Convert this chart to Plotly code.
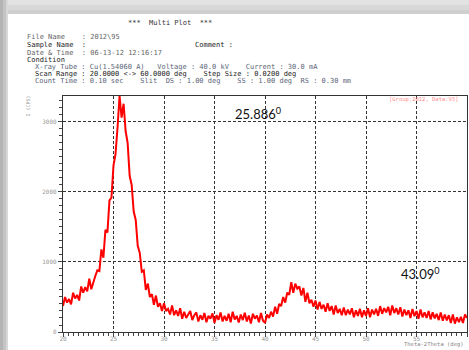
import numpy as np
import plotly.graph_objects as go

# ---- data ----
scan_start = 20.0
scan_end = 60.0
sample_step = 0.2
two_theta = np.round(np.arange(scan_start, scan_end + sample_step / 2, sample_step), 2)

intensity = [
    370, 500, 420, 470, 395, 560, 480, 530, 450, 650,            # 20.0-21.8
    560, 640, 580, 760, 610, 720, 800, 880, 870, 1180,           # 22.0-23.8
    1060, 1460, 1420, 1880, 1920, 2380, 2540, 2920, 3370, 3060,  # 24.0-25.8
    3260, 2870, 2700, 2230, 2100, 1720, 1600, 1230, 1130, 860,   # 26.0-27.8
    880, 600, 690, 500, 540, 390, 520, 360, 410, 300,            # 28.0-29.8
    410, 300, 330, 250, 380, 240, 310, 230, 340, 190,            # 30.0-31.8
    290, 200, 250, 300, 170, 240, 280, 150, 240, 175,            # 32.0-33.8
    270, 140, 230, 190, 265, 130, 240, 175, 280, 150,            # 34.0-35.8
    230, 160, 260, 140, 290, 180, 230, 135, 250, 170,            # 36.0-37.8
    275, 150, 235, 120, 260, 190, 235, 140, 270, 160,            # 38.0-39.8
    130, 250, 200, 290, 220, 360, 260, 400, 370, 500,            # 40.0-41.8
    420, 560, 530, 710, 560, 690, 620, 650, 520, 630,            # 42.0-43.8
    430, 560, 410, 460, 360, 450, 320, 430, 330, 390,            # 44.0-45.8
    290, 410, 300, 370, 250, 380, 270, 330, 240, 350,            # 46.0-47.8
    240, 320, 250, 340, 210, 310, 230, 330, 210, 310,            # 48.0-49.8
    230, 340, 210, 320, 250, 330, 230, 370, 260, 340,            # 50.0-51.8
    280, 360, 240, 380, 270, 340, 250, 355, 220, 320,            # 52.0-53.8
    240, 310, 200, 330, 225, 300, 190, 320, 210, 280,            # 54.0-55.8
    200, 300, 180, 280, 195, 260, 170, 280, 160, 250,            # 56.0-57.8
    165, 240, 130, 250, 120, 210, 140, 215, 130, 250,            # 58.0-59.8
    200,                                                         # 60.0
]

x_ticks = [20, 25, 30, 35, 40, 45, 50, 55, 60]
y_ticks = [0, 1000, 2000, 3000]

header_lines = [
    ("File Name    : 2012\\95", "#666666", 0),
    ("Sample Name  :", "#222222", 0),
    ("Date & Time  : 06-13-12 12:16:17", "#666666", 0),
    ("Condition", "#222222", 0),
    ("X-ray Tube : Cu(1.54060 A)   Voltage : 40.0 kV    Current : 30.0 mA", "#5a6578", 2),
    ("Scan Range : 20.0000 &lt;-&gt; 60.0000 deg    Step Size : 0.0200 deg", "#222222", 2),
    ("Count Time : 0.10 sec    Slit  DS : 1.00 deg    SS : 1.00 deg  RS : 0.30 mm", "#5a6578", 2),
]
peak_labels = [("25.886<sup>0</sup>", 233, 113), ("43.09<sup>0</sup>", 399, 273)]

# ---- layout geometry ----
W, H = 469, 350
L, R, T, B = 63, 2, 96, 18
PW, PH = W - L - R, H - T - B


def px(x):
    return (x - L) / PW


def py(y):
    return (H - B - y) / PH


MONO = "DejaVu Sans Mono"

fig = go.Figure()
fig.add_trace(go.Scatter(
    x=two_theta, y=intensity, mode="lines",
    line=dict(color="#ff0000", width=2),
    showlegend=False, hoverinfo="skip",
))

axis_common = dict(
    showline=True, mirror=True, linecolor="#333333", linewidth=1.2,
    showgrid=True, gridcolor="#333333", gridwidth=1, griddash="3px,2px",
    zeroline=False, ticks="outside", ticklen=4, tickcolor="#444444",
    tickfont=dict(family=MONO, size=6, color="#999999"),
)

fig.update_xaxes(
    range=[scan_start, scan_end], tickvals=x_ticks, ticktext=[str(v) for v in x_ticks],
    minor=dict(dtick=0.5, ticks="outside", ticklen=3, tickcolor="#444444", showgrid=False),
    ticklabelstandoff=-3,
    **axis_common,
)
fig.update_yaxes(
    range=[0, 3370], tickvals=y_ticks, ticktext=[str(v) for v in y_ticks],
    minor=dict(dtick=100, ticks="outside", ticklen=3, tickcolor="#444444", showgrid=False),
    **axis_common,
)

annotations = []
annotations.append(dict(
    text="***  Multi Plot  ***", x=px(170), y=py(23), xref="paper", yref="paper",
    xanchor="center", yanchor="middle", showarrow=False,
    font=dict(family=MONO, size=7, color="#333333"),
))
line_y = [37, 45, 53, 60, 67, 74, 81]
for (txt, col, indent), yy in zip(header_lines, line_y):
    annotations.append(dict(
        text=txt, x=px(25 + indent * 4.2), y=py(yy), xref="paper", yref="paper",
        xanchor="left", yanchor="middle", showarrow=False,
        font=dict(family=MONO, size=7, color=col),
    ))
annotations.append(dict(
    text="Comment :", x=px(193), y=py(45), xref="paper", yref="paper",
    xanchor="left", yanchor="middle", showarrow=False,
    font=dict(family=MONO, size=7, color="#222222"),
))
annotations.append(dict(
    text="I (CPS)", x=px(27.5), y=py(106), xref="paper", yref="paper",
    xanchor="center", yanchor="middle", showarrow=False, textangle=-90,
    font=dict(family=MONO, size=5, color="#999999"),
))
annotations.append(dict(
    text="[Group:2012, Data:95]", x=px(461), y=py(99.5), xref="paper", yref="paper",
    xanchor="right", yanchor="middle", showarrow=False,
    font=dict(family=MONO, size=5.5, color="#ff8c8c"),
))
annotations.append(dict(
    text="Theta-2Theta (deg)", x=px(466), y=py(344), xref="paper", yref="paper",
    xanchor="right", yanchor="middle", showarrow=False,
    font=dict(family=MONO, size=5.5, color="#888888"),
))
for txt, xx, yy in peak_labels:
    annotations.append(dict(
        text=txt, x=px(xx), y=py(yy), xref="paper", yref="paper",
        xanchor="left", yanchor="middle", showarrow=False,
        font=dict(family="Lato", size=13, color="#111111"),
    ))

# page shadow (scan look) at left and top edges
shapes = []
left_bands = [(0, 3, "#b4b4b4"), (3, 6, "#c4c4c4"), (6, 8, "#d8d8d8")]
for x0, x1, c in left_bands:
    shapes.append(dict(type="rect", xref="paper", yref="paper", x0=px(x0), x1=px(x1),
                       y0=py(H), y1=py(0), fillcolor=c, line=dict(width=0), layer="below"))
top_bands = [(0, 5, "#e2e2e2"), (5, 10, "#d8d8d8"), (10, 14, "#cfcfcf")]
for y0, y1, c in top_bands:
    shapes.append(dict(type="rect", xref="paper", yref="paper", x0=px(8), x1=px(W),
                       y0=py(y1), y1=py(y0), fillcolor=c, line=dict(width=0), layer="below"))

fig.update_layout(
    width=W, height=H, margin=dict(l=L, r=R, t=T, b=B, autoexpand=False),
    paper_bgcolor="#ffffff", plot_bgcolor="#ffffff",
    annotations=annotations, shapes=shapes, showlegend=False,
)

fig.write_html("out.html", config={"displayModeBar": False})
